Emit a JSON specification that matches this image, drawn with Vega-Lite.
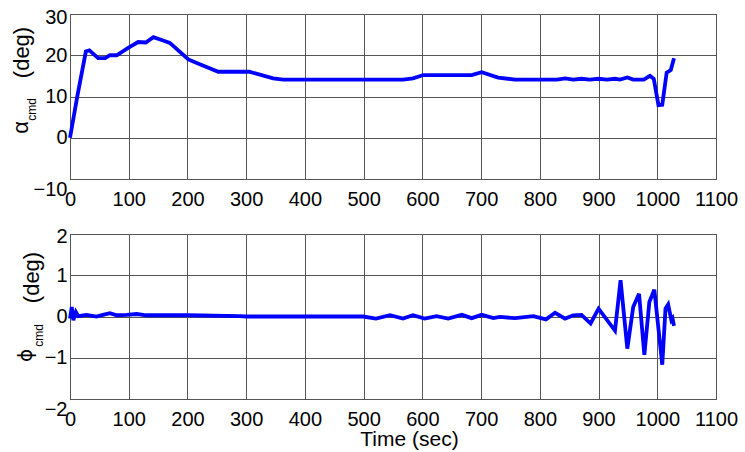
{
  "$schema": "https://vega.github.io/schema/vega-lite/v6.json",
  "background": "white",
  "padding": {"left": 8, "top": 6, "right": 2, "bottom": 2},
  "config": {
    "font": "Liberation Sans",
    "view": {"stroke": "black", "strokeWidth": 1},
    "axis": {
      "labelFont": "Liberation Sans",
      "titleFont": "Liberation Sans",
      "labelColor": "black",
      "titleColor": "black",
      "titleFontWeight": "normal",
      "domain": false,
      "ticks": false,
      "gridColor": "#555555",
      "gridOpacity": 1,
      "gridWidth": 1,
      "labelOverlap": false,
      "labelFlush": false,
      "format": "d"
    }
  },
  "datasets": {
    "alpha": [
      {"t": 0, "a": 0}, {"t": 12.5, "a": 10.1}, {"t": 27, "a": 20.9}, {"t": 33, "a": 21.2},
      {"t": 48, "a": 19.3}, {"t": 60, "a": 19.3}, {"t": 68, "a": 20}, {"t": 79.5, "a": 20},
      {"t": 99, "a": 21.8}, {"t": 116, "a": 23.2}, {"t": 129, "a": 23.1}, {"t": 142, "a": 24.4},
      {"t": 156, "a": 23.7}, {"t": 170, "a": 23}, {"t": 201.5, "a": 19}, {"t": 221, "a": 17.8},
      {"t": 252.5, "a": 16}, {"t": 305, "a": 16}, {"t": 346, "a": 14.4}, {"t": 363, "a": 14.1},
      {"t": 567, "a": 14.1}, {"t": 584, "a": 14.4}, {"t": 601.6, "a": 15.2}, {"t": 684, "a": 15.2},
      {"t": 701, "a": 15.9}, {"t": 729, "a": 14.6}, {"t": 758, "a": 14.1}, {"t": 829, "a": 14.1},
      {"t": 843, "a": 14.4}, {"t": 857, "a": 14.1}, {"t": 871, "a": 14.3}, {"t": 885, "a": 14.1},
      {"t": 900, "a": 14.3}, {"t": 914, "a": 14.1}, {"t": 928, "a": 14.3}, {"t": 936.5, "a": 14.1},
      {"t": 949, "a": 14.6}, {"t": 959, "a": 14.1}, {"t": 977, "a": 14.1}, {"t": 987.5, "a": 15},
      {"t": 994, "a": 14.3}, {"t": 1002, "a": 7.9}, {"t": 1008.5, "a": 8}, {"t": 1016, "a": 15.8},
      {"t": 1023, "a": 16.4}, {"t": 1028.5, "a": 19.3}
    ],
    "phi": [
      {"t": 0, "p": -0.05}, {"t": 3, "p": 0.23}, {"t": 5.7, "p": -0.09}, {"t": 10, "p": 0.11},
      {"t": 14, "p": 0.01}, {"t": 28, "p": 0.04}, {"t": 45, "p": 0.0}, {"t": 56, "p": 0.04},
      {"t": 68, "p": 0.08}, {"t": 79.5, "p": 0.03}, {"t": 96.5, "p": 0.04}, {"t": 113.5, "p": 0.06},
      {"t": 130, "p": 0.03}, {"t": 200, "p": 0.03}, {"t": 289, "p": 0.01}, {"t": 300, "p": 0},
      {"t": 499, "p": 0}, {"t": 521, "p": -0.05}, {"t": 545, "p": 0.03}, {"t": 567, "p": -0.05},
      {"t": 584, "p": 0.03}, {"t": 604, "p": -0.05}, {"t": 624, "p": 0.01}, {"t": 644, "p": -0.05},
      {"t": 667, "p": 0.04}, {"t": 684, "p": -0.04}, {"t": 701, "p": 0.04}, {"t": 721, "p": -0.04},
      {"t": 732, "p": -0.01}, {"t": 758, "p": -0.04}, {"t": 789, "p": 0.01}, {"t": 810.5, "p": -0.07},
      {"t": 826, "p": 0.09}, {"t": 843, "p": -0.05}, {"t": 857, "p": 0.03}, {"t": 871, "p": 0.04},
      {"t": 886.5, "p": -0.17}, {"t": 900, "p": 0.19}, {"t": 928, "p": -0.34}, {"t": 937.5, "p": 0.88},
      {"t": 949, "p": -0.78}, {"t": 959, "p": 0.23}, {"t": 969, "p": 0.55}, {"t": 978, "p": -0.93},
      {"t": 986.5, "p": 0.35}, {"t": 995, "p": 0.65}, {"t": 1008.5, "p": -1.17}, {"t": 1014, "p": 0.19},
      {"t": 1018.5, "p": 0.29}, {"t": 1024, "p": -0.09}, {"t": 1026, "p": -0.05}, {"t": 1028.5, "p": -0.23}
    ]
  },
  "spacing": 55,
  "bounds": "flush",
  "vconcat": [
    {
      "width": 646,
      "height": 165,
      "data": {"name": "alpha"},
      "encoding": {
        "x": {
          "field": "t", "type": "quantitative",
          "scale": {"domain": [0, 1100], "nice": false},
          "axis": {"values": [0, 100, 200, 300, 400, 500, 600, 700, 800, 900, 1000, 1100], "labelFontSize": 20, "labelPadding": 10, "title": null, "grid": true}
        }
      },
      "layer": [
        {
          "mark": {"type": "line", "color": "#0000ff", "strokeWidth": 3.8},
          "encoding": {
            "y": {
              "field": "a", "type": "quantitative",
              "scale": {"domain": [-10, 30], "nice": false},
              "axis": {
                "orient": "left", "values": [-10, 0, 10, 20, 30], "labelFontSize": 20, "labelPadding": 3,
                "labelBaseline": {"condition": {"test": "datum.value == -10", "value": "top"}, "value": "middle"},
                "labelOffset": {"condition": {"test": "datum.value == 30", "value": 3}, "value": 0},
                "grid": true,
                "title": "(deg)", "titleFontSize": 22, "titleAngle": -90, "titleAlign": "center", "titleBaseline": "alphabetic",
                "titleX": -41.5, "titleY": 38
              }
            }
          }
        },
        {
          "mark": {"type": "line", "opacity": 0},
          "encoding": {
            "y": {
              "field": "a", "type": "quantitative",
              "axis": {
                "orient": "left", "labels": false, "grid": false, "domain": false, "ticks": false,
                "title": "α", "titleFontSize": 22, "titleAngle": -90, "titleAlign": "center", "titleBaseline": "alphabetic",
                "titleX": -43, "titleY": 113
              }
            }
          }
        },
        {
          "mark": {"type": "line", "opacity": 0},
          "encoding": {
            "y": {
              "field": "a", "type": "quantitative",
              "axis": {
                "orient": "left", "labels": false, "grid": false, "domain": false, "ticks": false,
                "title": "cmd", "titleFontSize": 12, "titleAngle": -90, "titleAlign": "center", "titleBaseline": "alphabetic",
                "titleX": -35, "titleY": 95
              }
            }
          }
        }
      ],
      "resolve": {"axis": {"y": "independent"}}
    },
    {
      "width": 646,
      "height": 165,
      "data": {"name": "phi"},
      "encoding": {
        "x": {
          "field": "t", "type": "quantitative",
          "scale": {"domain": [0, 1100], "nice": false},
          "axis": {"values": [0, 100, 200, 300, 400, 500, 600, 700, 800, 900, 1000, 1100], "labelFontSize": 20, "labelPadding": 10, "grid": true,
            "title": "Time (sec)", "titleFontSize": 21, "titleX": 339, "titleY": 46, "titleAlign": "center", "titleBaseline": "alphabetic"}
        }
      },
      "layer": [
        {
          "mark": {"type": "line", "color": "#0000ff", "strokeWidth": 3.8},
          "encoding": {
            "y": {
              "field": "p", "type": "quantitative",
              "scale": {"domain": [-2, 2], "nice": false},
              "axis": {
                "orient": "left", "values": [-2, -1, 0, 1, 2], "labelFontSize": 20, "labelPadding": 3,
                "labelBaseline": {"condition": {"test": "datum.value == -2", "value": "top"}, "value": "middle"},
                "labelOffset": {"condition": {"test": "datum.value == 2", "value": 2}, "value": 0},
                "grid": true,
                "title": "(deg)", "titleFontSize": 22, "titleAngle": -90, "titleAlign": "center", "titleBaseline": "alphabetic",
                "titleX": -31.5, "titleY": 43
              }
            }
          }
        },
        {
          "mark": {"type": "line", "opacity": 0},
          "encoding": {
            "y": {
              "field": "p", "type": "quantitative",
              "axis": {
                "orient": "left", "labels": false, "grid": false, "domain": false, "ticks": false,
                "title": "ϕ", "titleFont": "DejaVu Sans", "titleFontSize": 20, "titleAngle": -90, "titleAlign": "center", "titleBaseline": "alphabetic",
                "titleX": -39, "titleY": 121
              }
            }
          }
        },
        {
          "mark": {"type": "line", "opacity": 0},
          "encoding": {
            "y": {
              "field": "p", "type": "quantitative",
              "axis": {
                "orient": "left", "labels": false, "grid": false, "domain": false, "ticks": false,
                "title": "cmd", "titleFontSize": 12, "titleAngle": -90, "titleAlign": "center", "titleBaseline": "alphabetic",
                "titleX": -28, "titleY": 101
              }
            }
          }
        }
      ],
      "resolve": {"axis": {"y": "independent"}}
    }
  ]
}
